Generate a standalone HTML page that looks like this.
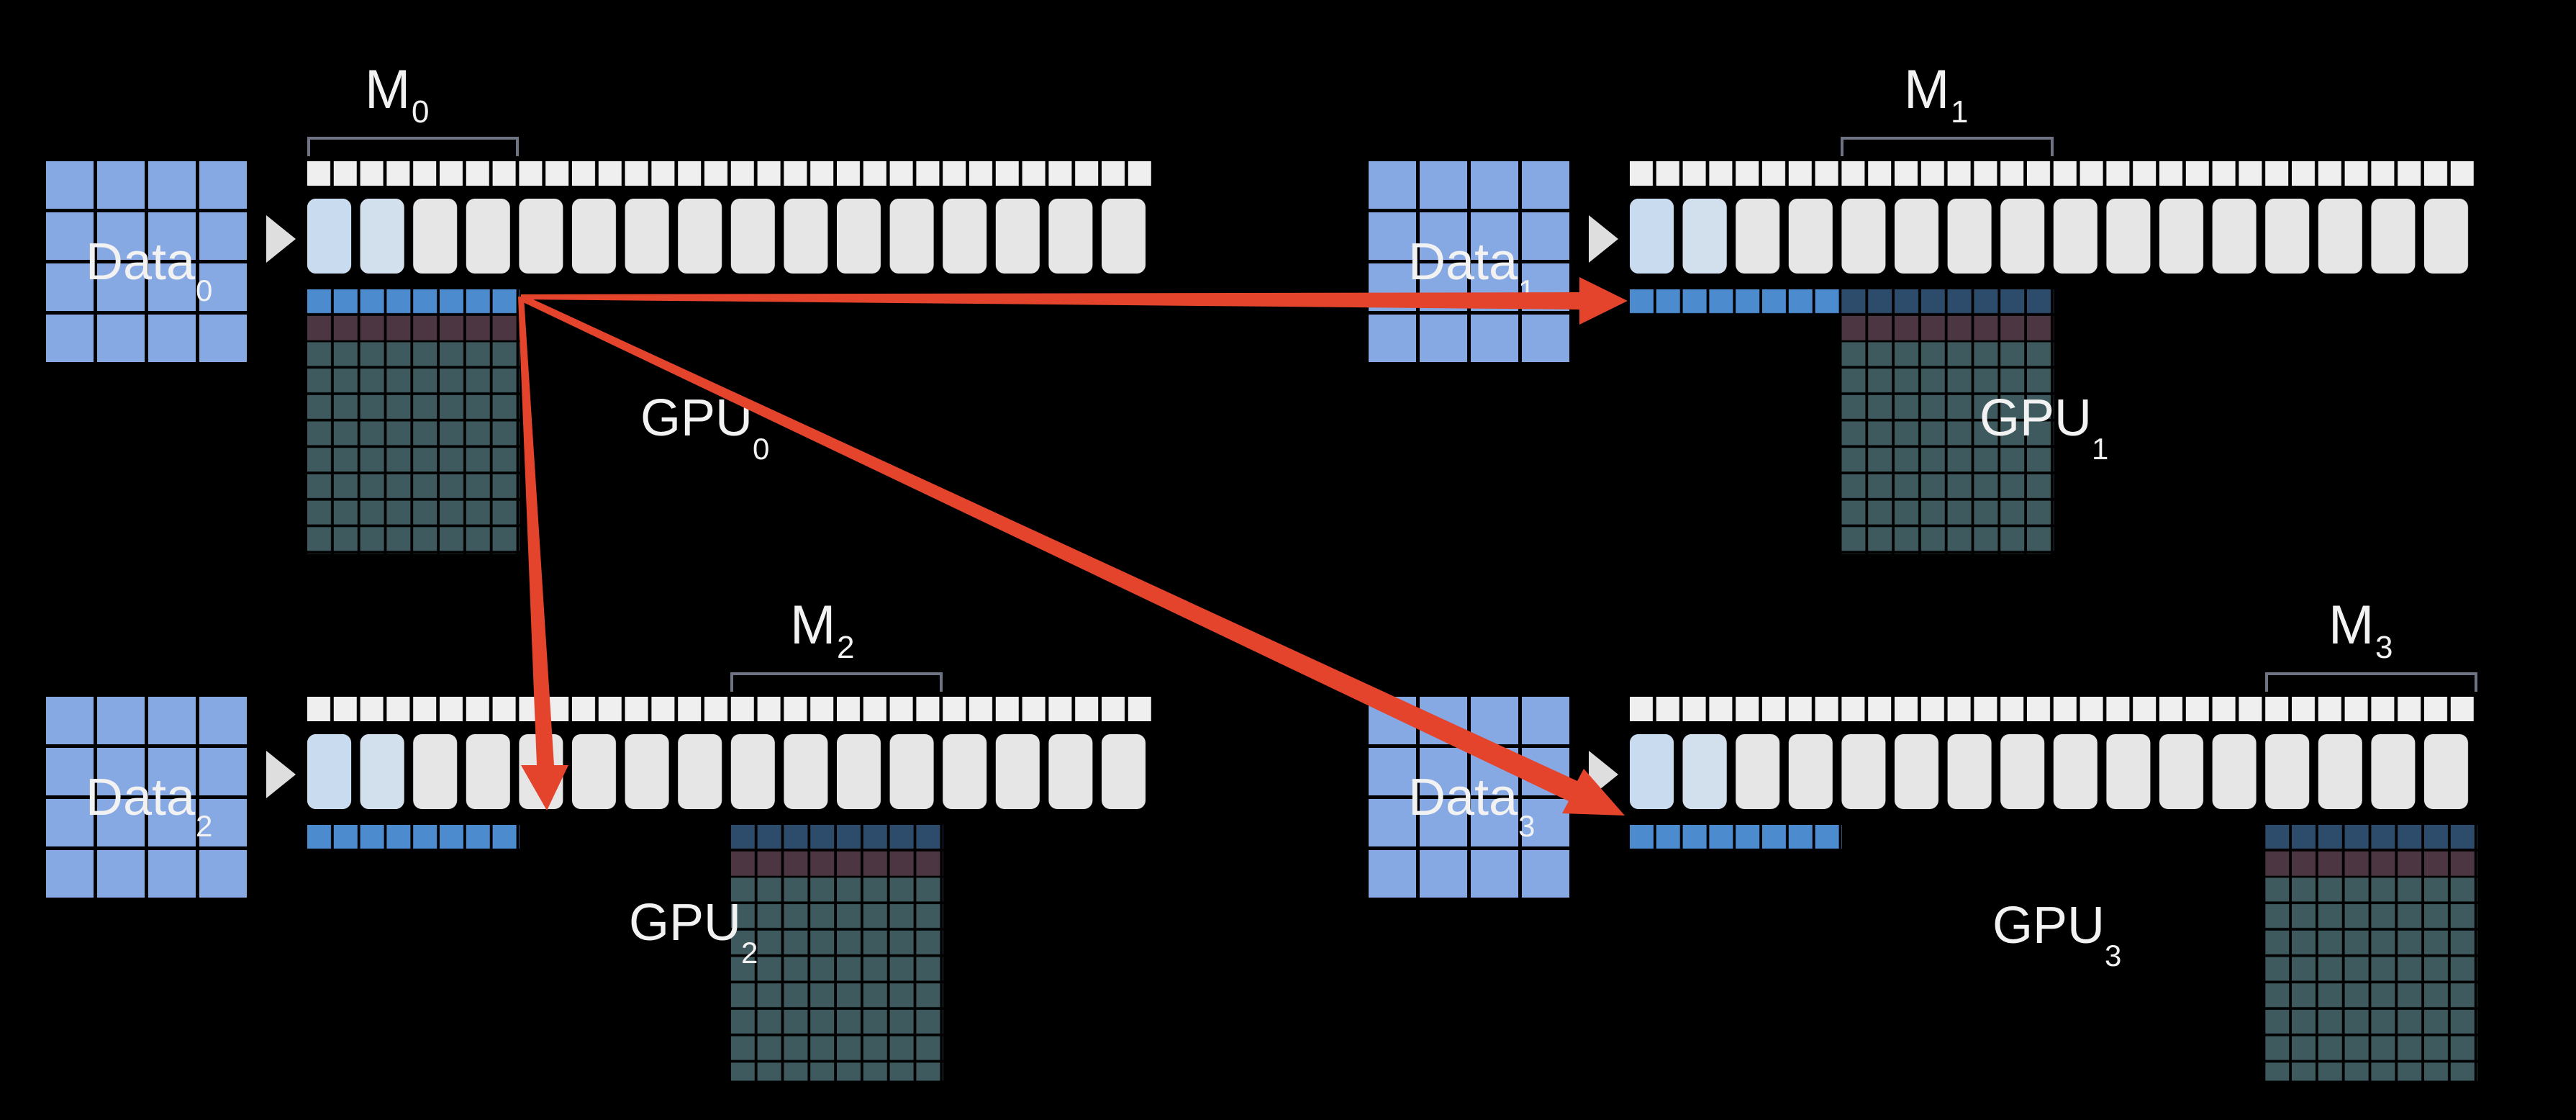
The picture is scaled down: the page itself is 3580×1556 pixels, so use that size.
<!DOCTYPE html>
<html><head><meta charset="utf-8"><style>
html,body{margin:0;padding:0;background:#000;}
svg{display:block;}
text{font-family:"Liberation Sans","DejaVu Sans",sans-serif;fill:#f2f2f2;}
</style></head><body>
<svg width="3580" height="1556" viewBox="0 0 3580 1556" xmlns="http://www.w3.org/2000/svg">
<defs>
  <pattern id="sq" x="427" y="224" width="36.8" height="34" patternUnits="userSpaceOnUse"><rect x="0" y="0" width="32" height="34" fill="#efefef"/></pattern>
  <pattern id="big" x="427" y="276" width="73.6" height="104" patternUnits="userSpaceOnUse"><rect x="0" y="0" width="61" height="104" rx="12" fill="#e6e6e6"/></pattern>
  <pattern id="dg" x="64" y="224" width="71" height="71" patternUnits="userSpaceOnUse"><rect x="0" y="0" width="66" height="66" fill="#86a9e4"/></pattern>
  <pattern id="pB" x="427" y="402" width="36.8" height="36.7" patternUnits="userSpaceOnUse"><rect x="0" y="0" width="33" height="33" fill="#4d8bcf"/></pattern>
  <pattern id="pD" x="427" y="402" width="36.8" height="36.7" patternUnits="userSpaceOnUse"><rect x="0" y="0" width="33" height="33" fill="#2d4c6c"/></pattern>
  <pattern id="pM" x="427" y="402" width="36.8" height="36.7" patternUnits="userSpaceOnUse"><rect x="0" y="0" width="33" height="34" fill="#4c3642"/></pattern>
  <pattern id="pT" x="427" y="402" width="36.8" height="36.7" patternUnits="userSpaceOnUse"><rect x="0" y="0" width="33" height="33" fill="#3e5a5f"/></pattern>
  <g id="base">
    <rect x="64" y="224" width="284" height="284" fill="url(#dg)"/>
    <polygon points="370,299 411,332 370,365" fill="#dedede"/>
    <rect x="427" y="224" width="1173" height="34" fill="url(#sq)"/>
    <rect x="427" y="276" width="1166" height="104" fill="url(#big)"/>
    <rect x="427" y="276" width="61" height="104" rx="12" fill="#c9dbee"/>
    <rect x="500.6" y="276" width="61" height="104" rx="12" fill="#d2e0ee"/>
  </g>
</defs>

<g>
  <use href="#base"/>
  <polyline points="429,217 429,192 719,192 719,217" fill="none" stroke="#6f7484" stroke-width="4"/>
  <text x="507" y="150" font-size="76">M</text><text x="572" y="170" font-size="44">0</text>
  <rect x="427" y="402" width="295" height="34" fill="url(#pB)"/>
  <rect x="427" y="438.7" width="295" height="35" fill="url(#pM)"/>
  <rect x="427" y="475.4" width="295" height="294" fill="url(#pT)"/>
  <text x="119" y="388" font-size="72">Data</text><text x="272" y="418" font-size="42">0</text>
  <text x="890" y="605" font-size="72">GPU</text><text x="1046" y="638" font-size="42">0</text>
</g>

<g transform="translate(1838,0)">
  <use href="#base"/>
  <polyline points="722,217 722,192 1014,192 1014,217" fill="none" stroke="#6f7484" stroke-width="4"/>
  <text x="808" y="150" font-size="76">M</text><text x="873" y="170" font-size="44">1</text>
  <rect x="427" y="402" width="295" height="34" fill="url(#pB)"/>
  <rect x="721.4" y="402" width="295" height="34" fill="url(#pD)"/>
  <rect x="721.4" y="438.7" width="295" height="35" fill="url(#pM)"/>
  <rect x="721.4" y="475.4" width="295" height="294" fill="url(#pT)"/>
  <text x="119" y="388" font-size="72">Data</text><text x="272" y="418" font-size="42">1</text>
  <text x="913" y="605" font-size="72">GPU</text><text x="1069" y="638" font-size="42">1</text>
</g>

<g transform="translate(0,744)">
  <use href="#base"/>
  <polyline points="1017,217 1017,192 1308,192 1308,217" fill="none" stroke="#6f7484" stroke-width="4"/>
  <text x="1098" y="150" font-size="76">M</text><text x="1163" y="170" font-size="44">2</text>
  <rect x="427" y="402" width="295" height="34" fill="url(#pB)"/>
  <rect x="1015.8" y="402" width="295" height="34" fill="url(#pD)"/>
  <rect x="1015.8" y="438.7" width="295" height="35" fill="url(#pM)"/>
  <rect x="1015.8" y="475.4" width="295" height="282" fill="url(#pT)"/>
  <text x="119" y="388" font-size="72">Data</text><text x="272" y="418" font-size="42">2</text>
  <text x="874" y="562" font-size="72">GPU</text><text x="1030" y="594" font-size="42">2</text>
</g>

<g transform="translate(1838,744)">
  <use href="#base"/>
  <polyline points="1312,217 1312,192 1603,192 1603,217" fill="none" stroke="#6f7484" stroke-width="4"/>
  <text x="1398" y="150" font-size="76">M</text><text x="1463" y="170" font-size="44">3</text>
  <rect x="427" y="402" width="295" height="34" fill="url(#pB)"/>
  <rect x="1310.2" y="402" width="295" height="34" fill="url(#pD)"/>
  <rect x="1310.2" y="438.7" width="295" height="35" fill="url(#pM)"/>
  <rect x="1310.2" y="475.4" width="295" height="282" fill="url(#pT)"/>
  <text x="119" y="388" font-size="72">Data</text><text x="272" y="418" font-size="42">3</text>
  <text x="931" y="566" font-size="72">GPU</text><text x="1087" y="598" font-size="42">3</text>
</g>

<g fill="#e4432c">
  <polygon points="724,409 2195,406 2195,385 2262,418 2195,451 2195,430 724,416"/>
  <polygon points="720,412 746,1063 724,1063 760,1126 790,1063 770,1063 728,412"/>
  <polygon points="728,410 2192,1085 2201,1068 2258,1133 2171,1130 2180,1113 723,418"/>
</g>
</svg>
</body></html>
